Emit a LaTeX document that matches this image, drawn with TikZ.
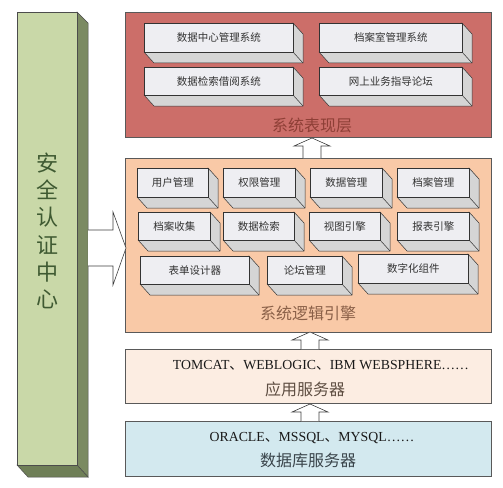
\documentclass[tikz,border=0pt]{standalone}
\usepackage{fontspec}
\setmainfont{Liberation Serif}
\newfontfamily\cjk{Noto Sans CJK SC}
\usetikzlibrary{calc}
\definecolor{pillarfront}{HTML}{C9D8A8}
\definecolor{pillarside}{HTML}{7B8A62}
\definecolor{pillarbottom}{HTML}{6F7F57}
\definecolor{pillartxt}{HTML}{3F5A32}
\definecolor{redlayer}{HTML}{CC6E69}
\definecolor{orangelayer}{HTML}{F9C9A7}
\definecolor{applayer}{HTML}{FCEDE2}
\definecolor{dblayer}{HTML}{D3E9EF}
\definecolor{boxfront}{HTML}{EEEEF2}
\definecolor{boxside}{HTML}{D5D5D5}
\definecolor{redlbl}{HTML}{8E3F36}
\definecolor{orangelbl}{HTML}{8A6048}
\definecolor{applbl}{HTML}{5E4E42}
\definecolor{dblbl}{HTML}{3A454B}
\tikzset{
  layer/.style={draw=black!65, line width=0.6pt, minimum width=366pt, anchor=north west, inner sep=0pt},
  frontface/.style={draw=black!80, fill=boxfront, line width=0.5pt, anchor=north west, inner sep=0pt,
    font=\cjk\fontsize{10.5}{12}\selectfont, text=black!80},
  sideface/.style={draw=black!80, fill=boxside, line width=0.5pt, line join=round},
  uparr/.style={draw=black!75, fill=white, line width=0.6pt, line join=miter},
  layerlbl/.style={font=\cjk\fontsize{16}{18}\selectfont},
  latintxt/.style={font=\fontsize{13.8}{15}\selectfont, text=black!90},
}
% #1 name, #2 x1, #3 y1, #4 x2, #5 y2, #6 text
\newcommand\tdbox[6]{%
  \filldraw[sideface] (#4,#3) -- (#4+10,#3+11) -- (#4+10,#5+11) -- (#2+10,#5+11) -- (#2,#5) -- cycle;
  \draw[sideface] (#4,#5) -- (#4+10,#5+11);
  \node[frontface, minimum width={(#4-#2)*1pt}, minimum height={(#5-#3)*1pt}] (#1) at (#2,#3) {#6};
}
% #1 center x, #2 tip y, #3 bottom y
\newcommand\uparrowshape[3]{%
  \filldraw[uparr] (#1-9,#3) -- (#1-9,#2+8) -- (#1-18,#2+8) -- (#1,#2) -- (#1+18,#2+8) -- (#1+9,#2+8) -- (#1+9,#3);
}
\begin{document}
\begin{tikzpicture}[x=1pt, y=-1pt]
\useasboundingbox (0,0) rectangle (503,487);
\fill[white] (0,0) rectangle (503,487);

% pillar
\filldraw[draw=black!70, fill=pillarside, line width=0.5pt] (77,12) -- (88,23) -- (88,477) -- (77,465) -- cycle;
\filldraw[draw=black!70, fill=pillarbottom, line width=0.5pt] (17,465) -- (77,465) -- (88,477) -- (28,477) -- cycle;
\node[draw=black!70, fill=pillarfront, line width=0.5pt, anchor=north west, inner sep=0pt,
  minimum width=60pt, minimum height=453pt] (pillar) at (17,12) {};
\node[font=\cjk\fontsize{22}{27.2}\selectfont, text=pillartxt, align=center] (pillartext) at (47,231)
  {安\\全\\认\\证\\中\\心};

% layers
\node[layer, fill=redlayer, minimum height=125pt] (pres) at (125,12) {};
\node[layer, fill=orangelayer, minimum height=174pt] (logic) at (125,158) {};
\node[layer, fill=applayer, minimum height=54pt] (app) at (125,349) {};
\node[layer, fill=dblayer, minimum height=55pt] (db) at (125,421) {};

% big arrow from pillar to logic layer
\filldraw[uparr] (88,230) -- (113,230) -- (113,212) -- (126,248) -- (113,285) -- (113,266) -- (88,266);

% up arrows
\uparrowshape{312}{138}{158}
\uparrowshape{310}{332}{349}
\uparrowshape{310}{404}{421}

% presentation layer boxes
\tdbox{p1}{144}{23}{293}{52}{数据中心管理系统}
\tdbox{p2}{319}{23}{462}{52}{档案室管理系统}
\tdbox{p3}{144}{67}{293}{95}{数据检索借阅系统}
\tdbox{p4}{319}{67}{462}{95}{网上业务指导论坛}
\node[layerlbl, text=redlbl] (preslbl) at (312,125) {系统表现层};

% logic layer boxes
\tdbox{l1}{137}{168}{208}{197}{用户管理}
\tdbox{l2}{223}{168}{295}{197}{权限管理}
\tdbox{l3}{310}{168}{382}{197}{数据管理}
\tdbox{l4}{397}{168}{469}{197}{档案管理}
\tdbox{l5}{138}{212}{210}{240}{档案收集}
\tdbox{l6}{223}{212}{294}{240}{数据检索}
\tdbox{l7}{309}{212}{380}{240}{视图引擎}
\tdbox{l8}{397}{212}{469}{240}{报表引擎}
\tdbox{l9}{140}{256}{249}{284}{表单设计器}
\tdbox{l10}{267}{256}{342}{284}{论坛管理}
\tdbox{l11}{358}{254}{468}{283}{数字化组件}
\node[layerlbl, text=orangelbl] (logiclbl) at (308,313) {系统逻辑引擎};

% app server
\node[latintxt] (apptxt) at (321,365) {TOMCAT{\cjk 、}WEBLOGIC{\cjk 、}IBM WEBSPHERE……};
\node[layerlbl, text=applbl] (applbl) at (305,389) {应用服务器};

% db server
\node[latintxt] (dbtxt) at (312,438) {ORACLE{\cjk 、}MSSQL{\cjk 、}MYSQL……};
\node[layerlbl, text=dblbl] (dblbl) at (308,460) {数据库服务器};
\end{tikzpicture}
\end{document}
